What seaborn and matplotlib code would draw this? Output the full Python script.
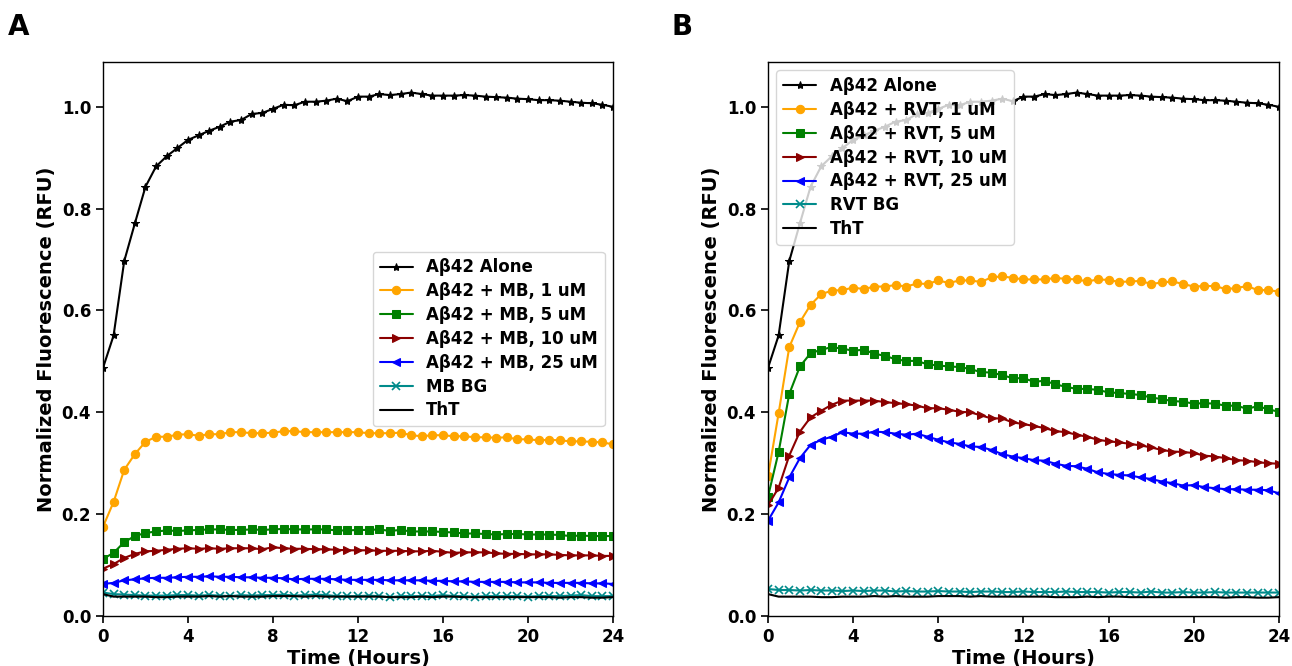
import numpy as np
import pandas as pd
import matplotlib
matplotlib.use('Agg')
import matplotlib.pyplot as plt
import seaborn as sns

# time points (hours), one reading every 30 min
time_h = np.arange(0, 24.5, 0.5)

abeta_alone = [0.487, 0.551, 0.697, 0.771, 0.843, 0.883, 0.903, 0.919, 0.935, 0.944,
               0.953, 0.961, 0.971, 0.974, 0.986, 0.988, 0.996, 1.004, 1.003, 1.010,
               1.010, 1.012, 1.016, 1.011, 1.020, 1.020, 1.025, 1.023, 1.025, 1.028,
               1.025, 1.022, 1.022, 1.022, 1.023, 1.022, 1.020, 1.019, 1.018, 1.016,
               1.015, 1.013, 1.013, 1.012, 1.010, 1.008, 1.007, 1.004, 1.000]

tht = [0.043, 0.038, 0.038, 0.038, 0.038, 0.037, 0.037, 0.038, 0.038, 0.038,
       0.039, 0.038, 0.039, 0.038, 0.038, 0.038, 0.039, 0.039, 0.039, 0.038,
       0.039, 0.038, 0.038, 0.038, 0.038, 0.038, 0.038, 0.037, 0.037, 0.037,
       0.038, 0.037, 0.038, 0.038, 0.037, 0.037, 0.037, 0.037, 0.037, 0.037,
       0.037, 0.037, 0.037, 0.036, 0.037, 0.037, 0.036, 0.036, 0.037]

# Panel A: methylene blue (MB)
mb_1 = [0.175, 0.224, 0.287, 0.318, 0.342, 0.352, 0.352, 0.356, 0.357, 0.354,
        0.357, 0.357, 0.361, 0.361, 0.359, 0.359, 0.360, 0.363, 0.363, 0.361,
        0.361, 0.361, 0.361, 0.361, 0.361, 0.359, 0.359, 0.359, 0.360, 0.355,
        0.353, 0.355, 0.355, 0.353, 0.353, 0.351, 0.351, 0.350, 0.351, 0.347,
        0.347, 0.345, 0.346, 0.345, 0.343, 0.343, 0.342, 0.341, 0.337]
mb_5 = [0.112, 0.124, 0.145, 0.157, 0.163, 0.166, 0.168, 0.167, 0.168, 0.169,
        0.170, 0.170, 0.169, 0.169, 0.170, 0.169, 0.170, 0.171, 0.170, 0.170,
        0.170, 0.170, 0.168, 0.168, 0.169, 0.169, 0.170, 0.167, 0.169, 0.166,
        0.166, 0.166, 0.165, 0.164, 0.162, 0.162, 0.161, 0.160, 0.161, 0.161,
        0.160, 0.160, 0.160, 0.159, 0.157, 0.158, 0.157, 0.157, 0.157]
mb_10 = [0.093, 0.102, 0.114, 0.122, 0.127, 0.128, 0.130, 0.132, 0.133, 0.132,
         0.133, 0.132, 0.133, 0.133, 0.133, 0.131, 0.135, 0.133, 0.132, 0.132,
         0.131, 0.131, 0.130, 0.129, 0.129, 0.129, 0.128, 0.128, 0.128, 0.127,
         0.127, 0.128, 0.126, 0.124, 0.125, 0.125, 0.125, 0.123, 0.122, 0.122,
         0.121, 0.121, 0.121, 0.120, 0.119, 0.119, 0.119, 0.118, 0.118]
mb_25 = [0.063, 0.065, 0.070, 0.072, 0.074, 0.075, 0.075, 0.076, 0.077, 0.077,
         0.078, 0.077, 0.077, 0.076, 0.076, 0.075, 0.075, 0.074, 0.072, 0.073,
         0.073, 0.073, 0.072, 0.071, 0.071, 0.071, 0.071, 0.070, 0.070, 0.070,
         0.070, 0.069, 0.069, 0.068, 0.068, 0.067, 0.067, 0.067, 0.067, 0.066,
         0.066, 0.066, 0.065, 0.065, 0.065, 0.065, 0.064, 0.064, 0.063]
mb_bg = [0.046, 0.043, 0.042, 0.041, 0.040, 0.040, 0.040, 0.041, 0.041, 0.040,
         0.041, 0.040, 0.039, 0.041, 0.040, 0.041, 0.041, 0.042, 0.040, 0.041,
         0.042, 0.041, 0.039, 0.039, 0.039, 0.040, 0.039, 0.037, 0.039, 0.039,
         0.039, 0.039, 0.041, 0.039, 0.039, 0.038, 0.039, 0.039, 0.039, 0.039,
         0.038, 0.039, 0.039, 0.039, 0.040, 0.041, 0.039, 0.039, 0.039]

# Panel B: resveratrol (RVT)
rvt_1 = [0.274, 0.398, 0.528, 0.577, 0.611, 0.632, 0.639, 0.640, 0.645, 0.642,
         0.647, 0.647, 0.650, 0.647, 0.653, 0.652, 0.659, 0.654, 0.659, 0.659,
         0.656, 0.665, 0.667, 0.664, 0.661, 0.661, 0.661, 0.664, 0.662, 0.661,
         0.657, 0.661, 0.660, 0.656, 0.657, 0.658, 0.652, 0.655, 0.657, 0.652,
         0.647, 0.648, 0.648, 0.642, 0.644, 0.648, 0.640, 0.640, 0.637]
rvt_5 = [0.234, 0.322, 0.436, 0.490, 0.516, 0.523, 0.528, 0.525, 0.521, 0.523,
         0.515, 0.511, 0.504, 0.501, 0.501, 0.494, 0.492, 0.490, 0.489, 0.485,
         0.479, 0.478, 0.473, 0.467, 0.467, 0.460, 0.462, 0.455, 0.450, 0.446,
         0.446, 0.444, 0.439, 0.438, 0.436, 0.434, 0.429, 0.426, 0.422, 0.421,
         0.417, 0.418, 0.417, 0.413, 0.413, 0.407, 0.412, 0.406, 0.401]
rvt_10 = [0.217, 0.252, 0.315, 0.362, 0.390, 0.403, 0.415, 0.423, 0.423, 0.423,
          0.423, 0.420, 0.418, 0.416, 0.413, 0.408, 0.408, 0.405, 0.401, 0.400,
          0.394, 0.388, 0.388, 0.380, 0.377, 0.373, 0.369, 0.363, 0.361, 0.356,
          0.352, 0.346, 0.343, 0.341, 0.338, 0.335, 0.331, 0.326, 0.323, 0.322,
          0.320, 0.315, 0.313, 0.310, 0.306, 0.305, 0.302, 0.300, 0.299]
rvt_25 = [0.187, 0.223, 0.272, 0.310, 0.336, 0.346, 0.352, 0.361, 0.358, 0.358,
          0.362, 0.361, 0.358, 0.356, 0.358, 0.352, 0.346, 0.341, 0.338, 0.333,
          0.332, 0.326, 0.318, 0.313, 0.310, 0.306, 0.305, 0.299, 0.295, 0.294,
          0.289, 0.282, 0.279, 0.277, 0.276, 0.272, 0.269, 0.264, 0.261, 0.256,
          0.257, 0.253, 0.251, 0.249, 0.249, 0.248, 0.248, 0.247, 0.241]
rvt_bg = [0.053, 0.051, 0.051, 0.050, 0.051, 0.050, 0.050, 0.049, 0.050, 0.049,
          0.050, 0.050, 0.048, 0.049, 0.048, 0.048, 0.049, 0.048, 0.048, 0.047,
          0.048, 0.048, 0.047, 0.047, 0.048, 0.047, 0.047, 0.047, 0.048, 0.047,
          0.047, 0.047, 0.046, 0.047, 0.047, 0.046, 0.048, 0.046, 0.046, 0.047,
          0.046, 0.046, 0.047, 0.046, 0.046, 0.046, 0.046, 0.046, 0.046]

conc_labels = ['1 uM', '5 uM', '10 uM', '25 uM']
colors = ['orange', 'green', 'darkred', 'blue']
markers = ['o', 's', '>', '<']
bg_color = 'darkcyan'

sns.set_style('ticks')
plt.rcParams['font.family'] = ['DejaVu Sans']
plt.rcParams['font.weight'] = 'bold'
plt.rcParams['axes.labelweight'] = 'bold'
plt.rcParams['axes.linewidth'] = 1.0
plt.rcParams['axes.edgecolor'] = 'black'
plt.rcParams['text.color'] = 'black'
plt.rcParams['axes.labelcolor'] = 'black'
plt.rcParams['xtick.color'] = 'black'
plt.rcParams['ytick.color'] = 'black'

fig = plt.figure(figsize=(12.92, 6.66), dpi=100)
axA = fig.add_axes([0.0797, 0.0751, 0.3948, 0.8318])
axB = fig.add_axes([0.5944, 0.0751, 0.3955, 0.8318])


def draw_panel(ax, drug, series, bg):
    sns.lineplot(x=time_h, y=abeta_alone, ax=ax, color='black', marker='*',
                 markersize=6, markeredgecolor='black', linewidth=1.5,
                 label='A\u03b242 Alone')
    for vals, lab, col, mk in zip(series, conc_labels, colors, markers):
        sns.lineplot(x=time_h, y=vals, ax=ax, color=col, marker=mk,
                     markersize=6, markeredgecolor=col, linewidth=1.5,
                     label=f'A\u03b242 + {drug}, {lab}')
    sns.lineplot(x=time_h, y=bg, ax=ax, color=bg_color, marker='x',
                 markersize=6, markeredgecolor=bg_color, markeredgewidth=1.2,
                 linewidth=1.5, label=f'{drug} BG')
    sns.lineplot(x=time_h, y=tht, ax=ax, color='black', linewidth=1.5,
                 label='ThT')
    ax.set_xlim(0, 24)
    ax.set_ylim(0, 1.088)
    ax.set_xticks(np.arange(0, 25, 4))
    ax.set_yticks(np.arange(0, 1.01, 0.2))
    ax.set_yticklabels([f'{v:.1f}' for v in np.arange(0, 1.01, 0.2)])
    ax.tick_params(labelsize=12, length=5, width=1.2)
    for lbl in ax.get_xticklabels() + ax.get_yticklabels():
        lbl.set_fontweight('bold')
    ax.set_xlabel('Time (Hours)', fontsize=14, fontweight='bold', labelpad=2)
    ax.set_ylabel('Normalized Fluorescence (RFU)', fontsize=14, fontweight='bold')


draw_panel(axA, 'MB', [mb_1, mb_5, mb_10, mb_25], mb_bg)
draw_panel(axB, 'RVT', [rvt_1, rvt_5, rvt_10, rvt_25], rvt_bg)

axA.legend(loc='center right', prop={'size': 12, 'weight': 'bold'},
           handlelength=2.0, labelspacing=0.35, borderpad=0.4)
axB.legend(loc='upper left', prop={'size': 12, 'weight': 'bold'},
           handlelength=2.0, labelspacing=0.35, borderpad=0.4)

fig.text(0.006, 0.96, 'A', fontsize=20, fontweight='bold', va='center')
fig.text(0.52, 0.96, 'B', fontsize=20, fontweight='bold', va='center')

fig.savefig('out.png', dpi=100)
